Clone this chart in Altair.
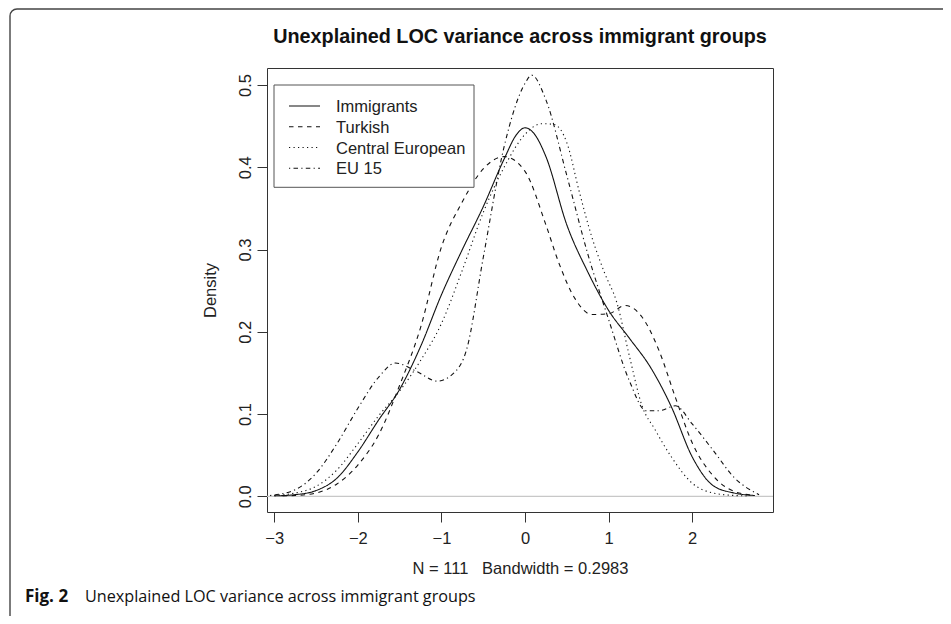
import altair as alt
import pandas as pd

groups = ["Immigrants", "Turkish", "Central European", "EU 15"]

imm_x = [-3.0, -2.75, -2.5, -2.25, -2.0, -1.75, -1.5, -1.25, -1.0, -0.75, -0.5, -0.25, -0.1, 0.0, 0.1, 0.25, 0.5, 0.75, 1.0, 1.25, 1.5, 1.75, 2.0, 2.25, 2.5, 2.75]
imm_y = [0.0005, 0.002, 0.007, 0.022, 0.054, 0.093, 0.13, 0.182, 0.245, 0.30, 0.352, 0.41, 0.44, 0.448, 0.442, 0.413, 0.33, 0.273, 0.226, 0.192, 0.157, 0.109, 0.048, 0.013, 0.004, 0.001]

tur_x = [-2.9, -2.75, -2.5, -2.25, -2.0, -1.75, -1.5, -1.25, -1.0, -0.75, -0.5, -0.25, 0.0, 0.25, 0.4, 0.6, 0.8, 1.0, 1.2, 1.4, 1.6, 1.8, 2.0, 2.25, 2.5, 2.75]
tur_y = [0.0005, 0.001, 0.004, 0.015, 0.038, 0.075, 0.135, 0.205, 0.303, 0.358, 0.398, 0.413, 0.395, 0.33, 0.285, 0.24, 0.221, 0.222, 0.232, 0.218, 0.178, 0.12, 0.065, 0.025, 0.006, 0.001]

cen_x = [-3.0, -2.75, -2.5, -2.25, -2.0, -1.75, -1.5, -1.25, -1.0, -0.75, -0.5, -0.25, 0.0, 0.2, 0.35, 0.5, 0.65, 0.8, 0.95, 1.1, 1.25, 1.4, 1.55, 1.75, 2.0, 2.25, 2.5, 2.65]
cen_y = [0.001, 0.004, 0.012, 0.032, 0.064, 0.098, 0.128, 0.165, 0.21, 0.275, 0.345, 0.40, 0.44, 0.453, 0.452, 0.43, 0.37, 0.315, 0.272, 0.235, 0.17, 0.11, 0.082, 0.048, 0.016, 0.004, 0.001, 0.0005]

eu_x = [-3.05, -2.75, -2.5, -2.25, -2.0, -1.75, -1.55, -1.3, -1.05, -0.85, -0.7, -0.5, -0.25, 0.0, 0.08, 0.25, 0.5, 0.75, 1.0, 1.25, 1.45, 1.6, 1.8, 2.0, 2.25, 2.5, 2.8]
eu_y = [0.001, 0.008, 0.028, 0.064, 0.107, 0.145, 0.162, 0.152, 0.14, 0.15, 0.178, 0.29, 0.425, 0.502, 0.512, 0.482, 0.39, 0.295, 0.215, 0.14, 0.104, 0.104, 0.11, 0.088, 0.056, 0.023, 0.002]

x_ticks = [-3, -2, -1, 0, 1, 2]
y_ticks = [0.0, 0.1, 0.2, 0.3, 0.4, 0.5]

main_title = "Unexplained LOC variance across immigrant groups"
x_title = "N = 111\u00a0\u00a0\u00a0Bandwidth = 0.2983"
y_title = "Density"
cap_bold = "Fig. 2"
cap_text = "Unexplained LOC variance across immigrant groups"

rows = []
for g, xs, ys in zip(groups, [imm_x, tur_x, cen_x, eu_x], [imm_y, tur_y, cen_y, eu_y]):
    for xv, yv in zip(xs, ys):
        rows.append({"group": g, "x": xv, "density": yv})
df = pd.DataFrame(rows)

W, H = 506, 444
FONT = "Liberation Sans"
FS = 16.5

x_scale = alt.Scale(domain=[-3.087, 2.967], nice=False, zero=False)
y_scale = alt.Scale(domain=[-0.0191, 0.5207], nice=False, zero=False)
dash_scale = alt.Scale(domain=groups, range=[[1, 0], [4.5, 4.5], [1.2, 3.3], [1.2, 3.3, 4.5, 3.3]])

one = alt.Data(values=[{"a": 1}])

frame = alt.Chart(one).mark_rect(
    fill=None, fillOpacity=0, stroke="#444", strokeWidth=1.4, cornerRadius=7
).encode(x=alt.value(-257), x2=alt.value(W + 300), y=alt.value(-59), y2=alt.value(H + 300))

zero = alt.Chart(alt.Data(values=[{"v": 0}])).mark_rule(color="#c8c8c8", strokeWidth=1.2).encode(
    y=alt.Y("v:Q", scale=y_scale, axis=None)
)

lines = alt.Chart(df).mark_line(color="#111", strokeWidth=1.1, interpolate="monotone").encode(
    x=alt.X("x:Q", scale=x_scale, axis=alt.Axis(
        values=x_ticks, format="d", title=x_title, tickSize=10, labelPadding=8,
        domain=False, grid=False, labelBaseline="top", labelFlush=False, labelOverlap=False,
        titleX=W / 2, titleY=61, titleBaseline="alphabetic", titleAlign="center",
    )),
    y=alt.Y("density:Q", scale=y_scale, axis=alt.Axis(
        values=y_ticks, format=".1f", title=y_title, tickSize=10, labelPadding=7,
        domain=False, grid=False, labelAngle=270, labelAlign="center", labelBaseline="alphabetic",
        labelFlush=False, labelOverlap=False,
        titleX=-57, titleY=H / 2, titleAngle=270, titleAlign="center", titleBaseline="middle",
    )),
    strokeDash=alt.StrokeDash("group:N", scale=dash_scale, legend=None),
)

leg_box = alt.Chart(one).mark_rect(fill="white", stroke="#555", strokeWidth=1).encode(
    x=alt.value(7), x2=alt.value(207), y=alt.value(17), y2=alt.value(119.3)
)

leg_df = pd.DataFrame({"group": groups, "row": list(range(len(groups)))})
leg_y = alt.Scale(domain=[0, 3], range=[38, 100.3])

leg_lines = alt.Chart(leg_df).mark_rule(color="#111", strokeWidth=1.1).encode(
    x=alt.value(22), x2=alt.value(53),
    y=alt.Y("row:Q", scale=leg_y, axis=None),
    strokeDash=alt.StrokeDash("group:N", scale=dash_scale, legend=None),
)
leg_text = alt.Chart(leg_df).mark_text(
    align="left", baseline="middle", font=FONT, fontSize=FS, color="#222", dy=1
).encode(
    x=alt.value(69), y=alt.Y("row:Q", scale=leg_y, axis=None), text="group:N"
)

title = alt.Chart(alt.Data(values=[{"t": main_title}])).mark_text(
    align="center", baseline="alphabetic", font=FONT, fontSize=19.8, fontWeight="bold", color="#111"
).encode(x=alt.value(W / 2), y=alt.value(-24.7), text="t:N")

cap1 = alt.Chart(alt.Data(values=[{"t": cap_bold}])).mark_text(
    align="left", baseline="alphabetic", font="Open Sans", fontSize=17, fontWeight="bold", color="#111"
).encode(x=alt.value(-242), y=alt.value(534), text="t:N")
cap2 = alt.Chart(alt.Data(values=[{"t": cap_text}])).mark_text(
    align="left", baseline="alphabetic", font="Open Sans", fontSize=16.2, color="#111"
).encode(x=alt.value(-182), y=alt.value(534), text="t:N")

chart = alt.layer(frame, zero, lines, leg_box, leg_lines, leg_text, title, cap1, cap2).resolve_scale(
    y="independent"
).properties(
    width=W, height=H,
    padding={"left": 259, "top": 60, "right": 935 - 259 - W, "bottom": 608 - 60 - H},
    autosize=alt.AutoSizeParams(type="none"),
    background="white",
).configure_view(stroke="#333", strokeWidth=1).configure_axis(
    labelFont=FONT, labelFontSize=FS, labelColor="#222",
    titleFont=FONT, titleFontSize=FS, titleFontWeight="normal", titleColor="#222",
    tickColor="#333", tickWidth=1,
)

chart.save("out.html", embed_options={"renderer": "svg", "actions": False})
